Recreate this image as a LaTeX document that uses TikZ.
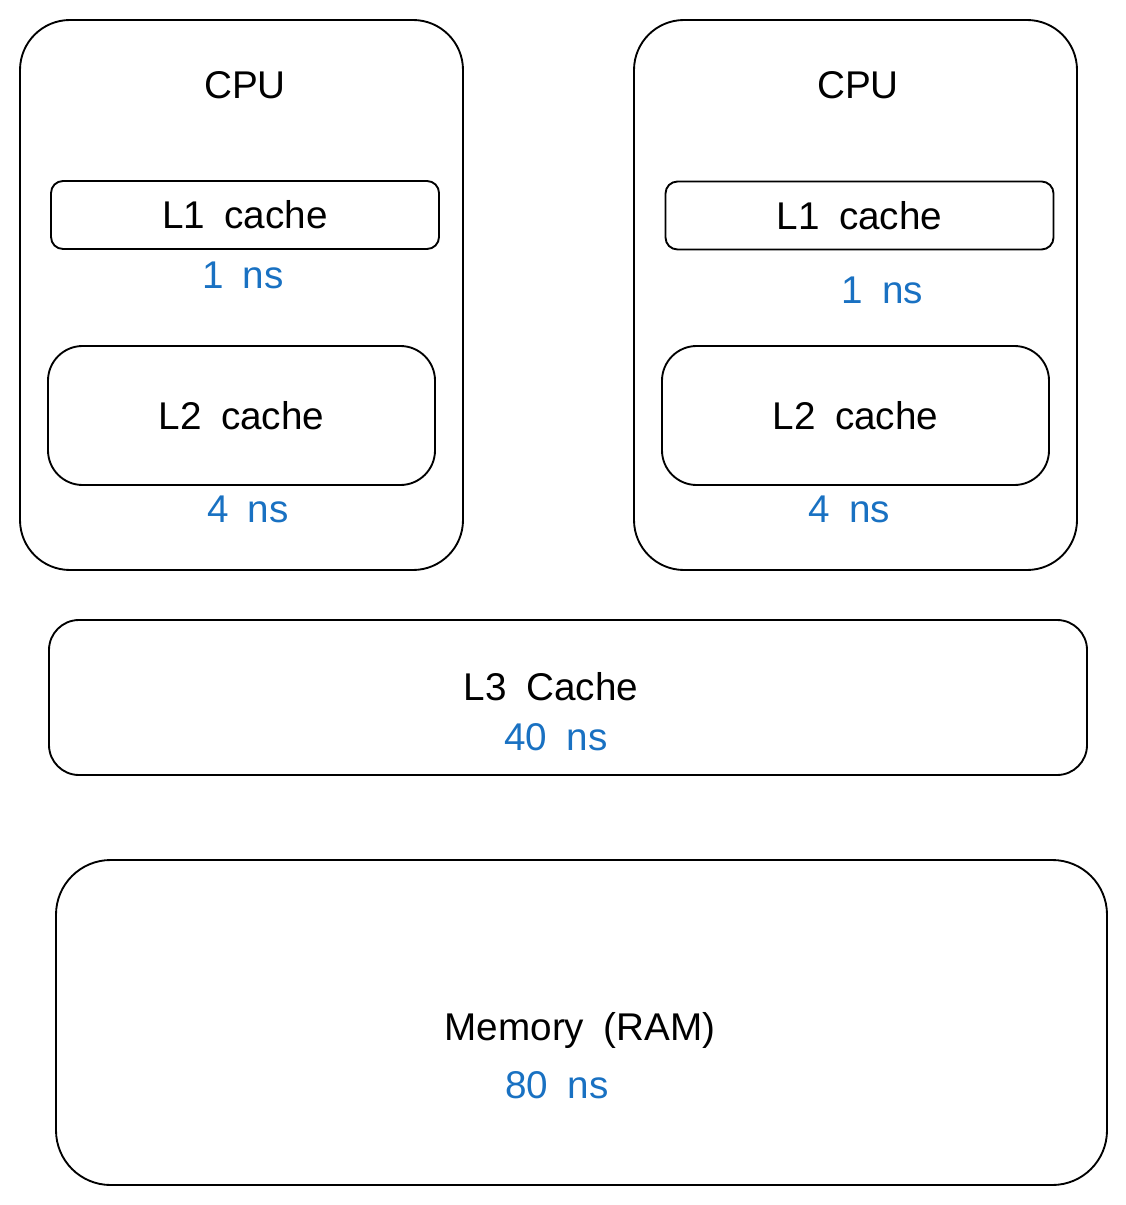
\documentclass[tikz,border=0pt]{standalone}
\usepackage{fontspec}
\setmainfont[WordSpace=1.8]{Liberation Sans}
\definecolor{nsblue}{HTML}{1971C2}
\begin{document}
\begin{tikzpicture}[x=0.75pt, y=-0.75pt,
	box/.style={draw, line width=1.4pt, inner sep=0pt},
	cpubox/.style={box, minimum width=332.25pt, minimum height=412.5pt, rounded corners=37.5pt},
	lonebox/.style={box, minimum width=291pt, minimum height=51pt, rounded corners=9pt},
	ltwobox/.style={box, minimum width=290.25pt, minimum height=104.25pt, rounded corners=26pt},
	label/.style={font=\fontsize{29pt}{34pt}\selectfont},
	timing/.style={label, text=nsblue}]
	\useasboundingbox (0,0) rectangle (1126,1205);

	% left cpu
	\node[cpubox] (cpuA) at (241.5,295) {};
	\node[label] (cpuAname) at (245,85) {CPU};
	\node[lonebox, label] (loneA) at (245,215) {L1 cache};
	\node[timing] (loneAtime) at (243,275) {1 ns};
	\node[ltwobox, label] (ltwoA) at (241.5,415.5) {L2 cache};
	\node[timing] (ltwoAtime) at (248,509) {4 ns};

	% right cpu
	\node[cpubox] (cpuB) at (855.5,295) {};
	\node[label] (cpuBname) at (858,85) {CPU};
	\node[lonebox, label] (loneB) at (859.5,215.5) {L1 cache};
	\node[timing] (loneBtime) at (882,290) {1 ns};
	\node[ltwobox, label] (ltwoB) at (855.5,415.5) {L2 cache};
	\node[timing] (ltwoBtime) at (849,509) {4 ns};

	% shared
	\node[box, minimum width=778.5pt, minimum height=116.25pt, rounded corners=22.5pt] (lthree) at (568,697.5) {};
	\node[label] (lthreename) at (551,687) {L3 Cache};
	\node[timing] (lthreetime) at (556,737) {40 ns};

	\node[box, minimum width=788.25pt, minimum height=243.75pt, rounded corners=41pt] (mem) at (581.5,1022.5) {};
	\node[label] (memname) at (580,1030) {Memory (RAM)};
	\node[timing] (memtime) at (557,1085) {80 ns};
\end{tikzpicture}
\end{document}
